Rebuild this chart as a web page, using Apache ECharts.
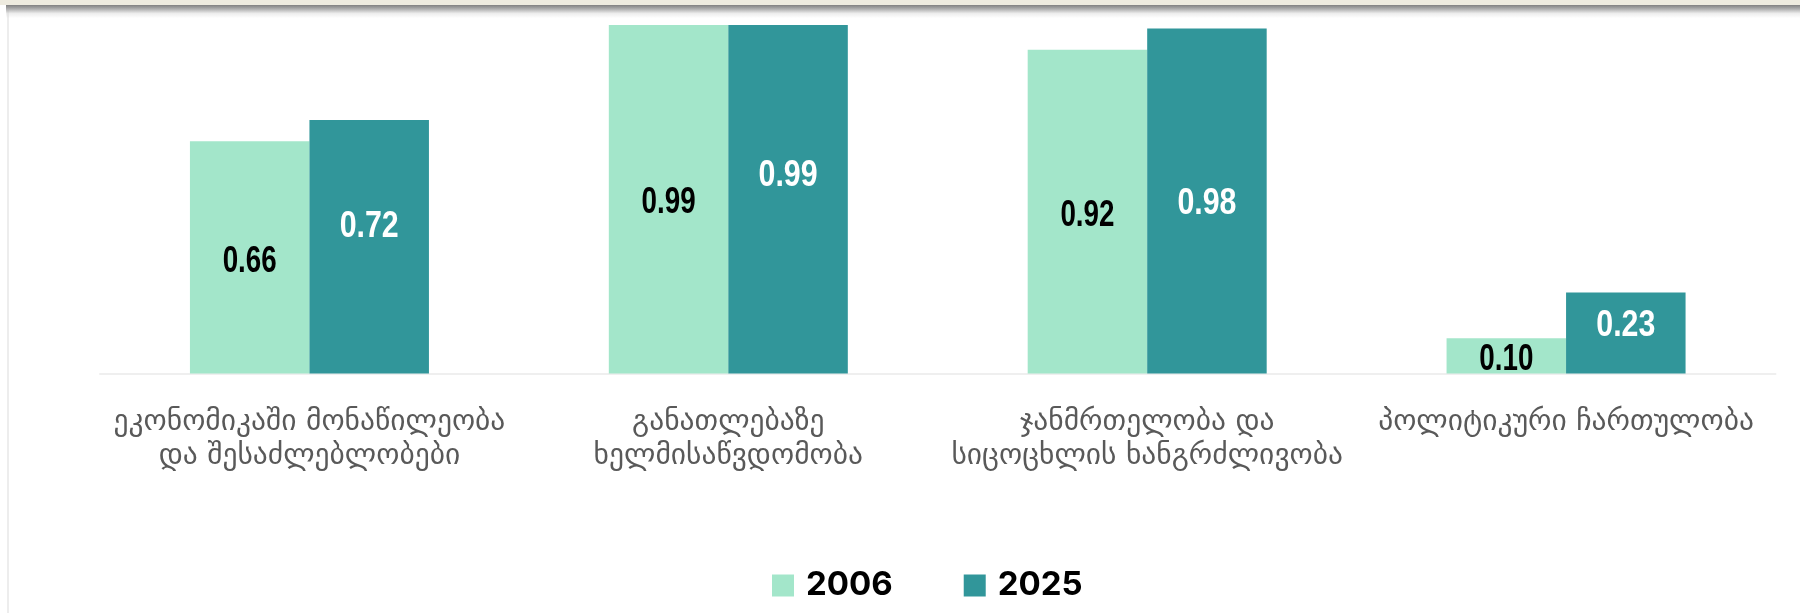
<!DOCTYPE html>
<html>
<head>
<meta charset="utf-8">
<script src="https://cdn.jsdelivr.net/npm/echarts@6/dist/echarts.min.js"></script>
<style>
  html, body { margin: 0; padding: 0; background: #ffffff; }
  #wrap { position: relative; width: 1800px; height: 613px; overflow: hidden; background: #ffffff; }
  #topband { position: absolute; left: 0; top: 0; width: 1800px; height: 5px; background: #EEEBDF; z-index: 3; }
  #topshade { position: absolute; left: 6px; top: 5px; width: 1794px; height: 13px; z-index: 2;
              background: linear-gradient(to bottom, rgba(128,128,128,1) 0%, rgba(160,160,160,0.85) 30%, rgba(215,215,215,0.45) 65%, rgba(255,255,255,0) 100%); }
  #leftrule { position: absolute; left: 7px; top: 10px; width: 2px; height: 603px; background: #EDEDED; z-index: 1; }
  #chart { position: absolute; left: 0; top: 0; width: 1800px; height: 613px; }
</style>
</head>
<body>
<div id="wrap">
  <div id="chart"></div>
  <div id="leftrule"></div>
  <div id="topshade"></div>
  <div id="topband"></div>
</div>
<script>
// Gender gap sub-index scores, 2006 vs 2025
const categories = [
  'ეკონომიკაში მონაწილეობა\nდა შესაძლებლობები',
  'განათლებაზე\nხელმისაწვდომობა',
  'ჯანმრთელობა და\nსიცოცხლის ხანგრძლივობა',
  'პოლიტიკური ჩართულობა'
];
const seriesNames = ['2006', '2025'];
const values2006 = [0.66, 0.99, 0.92, 0.10];
const values2025 = [0.72, 0.99, 0.98, 0.23];

// vertical placement of value labels (px)
const labelDrop = 4;
const nudge2025 = [-24, -27, -1, -11];

const labelFont = "'Liberation Sans', Arial, sans-serif";

const chart = echarts.init(document.getElementById('chart'), null, { renderer: 'canvas' });

chart.setOption({
  animation: false,
  backgroundColor: 'transparent',
  grid: { left: 100, right: 24.5, top: 21.5, bottom: 239.5, containLabel: false },
  legend: {
    data: seriesNames,
    left: 772,
    top: 569,
    padding: 0,
    itemWidth: 22,
    itemHeight: 22,
    itemGap: 71,
    icon: 'rect',
    textStyle: {
      fontFamily: 'Inter, sans-serif',
      fontWeight: 700,
      fontSize: 33,
      color: '#000000',
      padding: [0, 0, 0, 7]
    }
  },
  xAxis: {
    type: 'category',
    data: categories,
    axisTick: { show: false },
    axisLine: { show: true, lineStyle: { color: '#EFEFEF', width: 2 } },
    axisLabel: {
      interval: 0,
      margin: 32,
      fontFamily: "'DejaVu Sans', sans-serif",
      fontSize: 29.5,
      lineHeight: 34,
      color: '#595959'
    }
  },
  yAxis: {
    type: 'value',
    min: 0,
    max: 1,
    show: false,
    splitLine: { show: false }
  },
  series: [
    {
      name: seriesNames[0],
      type: 'bar',
      barWidth: 119.5,
      barGap: '0%',
      itemStyle: { color: '#A3E6CA' },
      label: {
        show: true,
        position: 'inside',
        offset: [0, labelDrop],
        fontFamily: labelFont,
        fontWeight: 'bold',
        fontSize: 37,
        color: '#000000',
        formatter: p => p.value.toFixed(2)
      },
      data: values2006
    },
    {
      name: seriesNames[1],
      type: 'bar',
      barWidth: 119.5,
      barGap: '0%',
      itemStyle: { color: '#31969A' },
      label: {
        show: true,
        position: 'inside',
        fontFamily: labelFont,
        fontWeight: 'bold',
        fontSize: 37,
        color: '#ffffff',
        formatter: p => p.value.toFixed(2)
      },
      data: values2025.map((v, i) => ({ value: v, label: { offset: [0, labelDrop + nudge2025[i]] } }))
    }
  ]
});

// Narrow the value labels horizontally to get a condensed figure style
function condenseValueLabels() {
  const zr = chart.getZr();
  zr.storage.getDisplayList(true).forEach(el => {
    const st = el.style;
    if (!st || typeof st.text !== 'string' || !/^\d\.\d\d$/.test(st.text)) return;
    const fill = String(st.fill).toLowerCase();
    const white = fill === '#ffffff' || fill === '#fff';
    el.originX = st.x || 0;
    el.originY = st.y || 0;
    el.scaleX = white ? 0.82 : 0.75;
    el.markRedraw();
  });
  zr.refreshImmediately();
}
condenseValueLabels();
</script>
</body>
</html>
